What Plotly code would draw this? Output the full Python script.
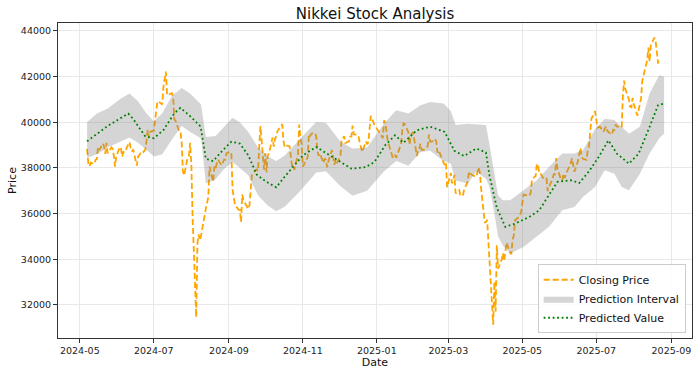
import plotly.graph_objects as go

# ---------------- data ----------------
close_dates = [
    "2024-05-07","2024-05-08","2024-05-09","2024-05-10","2024-05-13","2024-05-14","2024-05-15","2024-05-16","2024-05-17",
    "2024-05-20","2024-05-21","2024-05-22","2024-05-23","2024-05-24","2024-05-27","2024-05-28","2024-05-29","2024-05-30","2024-05-31",
    "2024-06-03","2024-06-04","2024-06-05","2024-06-06","2024-06-07","2024-06-10","2024-06-11","2024-06-12","2024-06-13","2024-06-14",
    "2024-06-17","2024-06-18","2024-06-19","2024-06-20","2024-06-21","2024-06-24","2024-06-25","2024-06-26","2024-06-27","2024-06-28",
    "2024-07-01","2024-07-02","2024-07-03","2024-07-04","2024-07-05","2024-07-08","2024-07-09","2024-07-10","2024-07-11","2024-07-12",
    "2024-07-16","2024-07-17","2024-07-18","2024-07-19","2024-07-22","2024-07-23","2024-07-24","2024-07-25","2024-07-26",
    "2024-07-29","2024-07-30","2024-07-31","2024-08-01","2024-08-02","2024-08-05","2024-08-06","2024-08-07","2024-08-08","2024-08-09",
    "2024-08-13","2024-08-14","2024-08-15","2024-08-16","2024-08-19","2024-08-20","2024-08-21","2024-08-22","2024-08-23",
    "2024-08-26","2024-08-27","2024-08-28","2024-08-29","2024-08-30","2024-09-02","2024-09-03","2024-09-04","2024-09-05","2024-09-06",
    "2024-09-09","2024-09-10","2024-09-11","2024-09-12","2024-09-13","2024-09-17","2024-09-18","2024-09-19","2024-09-20",
    "2024-09-24","2024-09-25","2024-09-26","2024-09-27","2024-09-30","2024-10-01","2024-10-02","2024-10-03","2024-10-04",
    "2024-10-07","2024-10-08","2024-10-09","2024-10-10","2024-10-11","2024-10-15","2024-10-16","2024-10-17","2024-10-18",
    "2024-10-21","2024-10-22","2024-10-23","2024-10-24","2024-10-25","2024-10-28","2024-10-29","2024-10-30","2024-10-31","2024-11-01",
    "2024-11-05","2024-11-06","2024-11-07","2024-11-08","2024-11-11","2024-11-12","2024-11-13","2024-11-14","2024-11-15",
    "2024-11-18","2024-11-19","2024-11-20","2024-11-21","2024-11-22","2024-11-25","2024-11-26","2024-11-27","2024-11-28","2024-11-29",
    "2024-12-02","2024-12-03","2024-12-04","2024-12-05","2024-12-06","2024-12-09","2024-12-10","2024-12-11","2024-12-12","2024-12-13",
    "2024-12-16","2024-12-17","2024-12-18","2024-12-19","2024-12-20","2024-12-23","2024-12-24","2024-12-25","2024-12-26","2024-12-27",
    "2024-12-30","2025-01-06","2025-01-07","2025-01-08","2025-01-09","2025-01-10","2025-01-14","2025-01-15","2025-01-16","2025-01-17",
    "2025-01-20","2025-01-21","2025-01-22","2025-01-23","2025-01-24","2025-01-27","2025-01-28","2025-01-29","2025-01-30","2025-01-31",
    "2025-02-03","2025-02-04","2025-02-05","2025-02-06","2025-02-07","2025-02-10","2025-02-12","2025-02-13","2025-02-14",
    "2025-02-17","2025-02-18","2025-02-19","2025-02-20","2025-02-21","2025-02-25","2025-02-26","2025-02-27","2025-02-28",
    "2025-03-03","2025-03-04","2025-03-05","2025-03-06","2025-03-07","2025-03-10","2025-03-11","2025-03-12","2025-03-13","2025-03-14",
    "2025-03-17","2025-03-18","2025-03-19","2025-03-21","2025-03-24","2025-03-25","2025-03-26","2025-03-27","2025-03-28",
    "2025-03-31","2025-04-01","2025-04-02","2025-04-03","2025-04-04","2025-04-07","2025-04-08","2025-04-09","2025-04-10","2025-04-11",
    "2025-04-14","2025-04-15","2025-04-16","2025-04-17","2025-04-18","2025-04-21","2025-04-22","2025-04-23","2025-04-24","2025-04-25",
    "2025-04-28","2025-04-30","2025-05-01","2025-05-02","2025-05-07","2025-05-08","2025-05-09","2025-05-12","2025-05-13","2025-05-14",
    "2025-05-15","2025-05-16","2025-05-19","2025-05-20","2025-05-21","2025-05-22","2025-05-23","2025-05-26","2025-05-27","2025-05-28",
    "2025-05-29","2025-05-30","2025-06-02","2025-06-03","2025-06-04","2025-06-05","2025-06-06","2025-06-09","2025-06-10","2025-06-11",
    "2025-06-12","2025-06-13","2025-06-16","2025-06-17","2025-06-18","2025-06-19","2025-06-20","2025-06-23","2025-06-24","2025-06-25",
    "2025-06-26","2025-06-27","2025-06-30","2025-07-01","2025-07-02","2025-07-03","2025-07-04","2025-07-07","2025-07-08","2025-07-09",
    "2025-07-10","2025-07-11","2025-07-14","2025-07-15","2025-07-16","2025-07-17","2025-07-18","2025-07-22","2025-07-23","2025-07-24",
    "2025-07-25","2025-07-28","2025-07-29","2025-07-30","2025-07-31","2025-08-01","2025-08-04","2025-08-05","2025-08-06","2025-08-07",
    "2025-08-08","2025-08-12","2025-08-13","2025-08-14","2025-08-15","2025-08-18","2025-08-19","2025-08-20","2025-08-21","2025-08-22",
]
close_values = [
    38835,38202,38073,38229,38179,38356,38385,38920,38787,
    39069,38946,38617,39103,38646,38900,38855,38556,38054,38487,
    38923,38837,38490,38703,38683,39038,39134,38876,38720,38814,
    38102,38482,38570,38633,38596,38804,39173,39667,39341,39583,
    39631,40074,40580,40913,40912,40780,41580,41831,42224,41190,
    41275,41098,40126,40063,39599,39594,39154,37869,37667,
    38468,38525,39101,38126,35909,31458,34675,35089,34831,35025,
    36232,36442,36726,38063,37389,38063,37951,38211,38364,
    38110,38288,38371,38362,38648,38700,38686,37047,36657,36391,
    36159,36159,35620,36833,36581,36203,36380,37155,37724,
    37941,37870,38926,39830,37920,38652,37809,38552,38636,
    39333,38938,39278,39381,39606,39911,39181,38911,38982,
    38955,38412,38105,38143,37914,38606,39903,39277,39081,38054,
    38475,39480,39381,39501,39534,39376,38722,38536,38642,
    38220,38415,38352,38027,38284,38780,38443,38135,38349,38208,
    38513,39249,39277,39396,39091,39161,39368,39373,39850,39470,
    39457,39365,39082,38814,38702,39161,39037,39130,39568,40281,
    39895,39307,40083,39981,39605,39190,38474,38445,38573,38451,
    38903,39027,39646,39958,39931,39566,39016,39415,39514,39572,
    38520,38798,38831,39066,38787,38801,38964,39461,39149,
    39174,39270,39164,38678,38776,38238,38142,38256,37155,
    37785,37331,37418,37704,36887,37028,36793,36819,36790,37053,
    37396,37845,37751,37677,37608,37780,38027,37799,37120,
    35618,35625,35726,34736,33781,31137,33013,31714,34609,33586,
    33983,34268,33921,34377,34730,34280,34221,34869,35040,35706,
    35840,36045,36452,36831,36780,36929,37504,37645,38184,38128,
    37756,37754,37499,37530,37530,36986,37160,37532,37724,37723,
    38433,37965,37471,37447,37748,37555,37742,38089,38212,38421,
    38173,37834,38312,38537,38885,38489,38403,38354,38791,38943,
    39584,40151,40487,39987,39763,39786,39811,39588,39689,39822,
    39646,39570,39460,39679,39663,39901,39819,39775,41171,41826,
    41456,40998,40675,40655,41069,40800,40291,40550,40794,41059,
    41820,42718,43275,42650,43378,43714,43547,42889,42610,42633,
]

pred_dates = [
    "2024-05-07","2024-05-15","2024-05-24","2024-06-03","2024-06-10","2024-06-14","2024-06-24","2024-07-01","2024-07-09",
    "2024-07-18","2024-07-23","2024-07-30","2024-08-08","2024-08-09","2024-08-13","2024-08-19","2024-08-27","2024-09-03",
    "2024-09-10","2024-09-17","2024-09-24","2024-10-02","2024-10-10","2024-10-18","2024-10-25","2024-11-01","2024-11-12",
    "2024-11-21","2024-12-02","2024-12-11","2024-12-23","2024-12-30","2025-01-08","2025-01-16","2025-01-23","2025-02-03",
    "2025-02-14","2025-02-26","2025-03-06","2025-03-14","2025-03-24","2025-04-01","2025-04-04","2025-04-10","2025-04-17",
    "2025-04-25","2025-05-07","2025-05-15","2025-05-22","2025-05-30","2025-06-10","2025-06-17","2025-06-25","2025-07-03",
    "2025-07-11","2025-07-18","2025-07-28","2025-08-05","2025-08-14","2025-08-21","2025-08-26",
]
pred_values = [
    39170,39500,39840,40160,40380,40150,39380,39300,39660,
    40400,40630,40320,39850,39700,38400,38300,38780,39150,
    39070,38550,37700,37390,37150,37680,38120,38550,38920,
    38630,38260,37970,38040,38260,39000,39430,39100,39650,
    39810,39580,38750,38520,38850,38680,37650,36250,35420,
    35560,35860,36150,36730,37390,37460,37340,37850,38480,
    39210,38630,38190,38630,39800,40750,40820,
]

band_dates = [
    "2024-05-07","2024-05-15","2024-05-24","2024-06-04","2024-06-11","2024-06-18","2024-06-25","2024-07-01","2024-07-08",
    "2024-07-16","2024-07-24","2024-07-31","2024-08-09","2024-08-13","2024-08-21","2024-08-28","2024-09-04","2024-09-10",
    "2024-09-17","2024-09-25","2024-10-03","2024-10-10","2024-10-17","2024-10-30","2024-11-12","2024-11-20","2024-12-02",
    "2024-12-12","2024-12-24","2025-01-07","2025-01-17","2025-01-27","2025-02-06","2025-02-14","2025-02-25","2025-03-03",
    "2025-03-07","2025-03-17","2025-03-24","2025-04-01","2025-04-04","2025-04-08","2025-04-11","2025-04-15","2025-04-21",
    "2025-05-02","2025-05-13","2025-05-23","2025-06-03","2025-06-13","2025-06-20","2025-06-30","2025-07-08","2025-07-16",
    "2025-07-22","2025-07-28","2025-08-06","2025-08-14","2025-08-22","2025-08-26",
]
band_upper = [
    40000,40380,40600,41040,41260,40920,40380,40050,40400,
    41150,41500,41260,40780,39360,39400,39800,40200,40000,
    39580,38900,38500,38300,38550,39290,40010,39980,39150,
    38850,38900,39950,40530,40380,40750,40890,40820,40500,
    39880,39940,39900,39880,39000,37800,36800,36580,36580,
    37020,37460,38040,38630,38630,38770,39700,40150,40100,
    39800,39500,39800,41260,42060,41990,
]
band_lower = [
    38450,38600,38900,39150,39330,39100,38800,38500,38600,
    39250,39840,39580,39300,37320,37500,37950,38260,38000,
    37680,36800,36360,36100,36300,37000,37800,37860,37200,
    36780,37000,37860,38300,38100,38700,38750,38300,38190,
    37450,37320,37830,37530,37170,36000,35000,34600,34250,
    34540,34980,35420,36150,36290,36730,37170,37900,37750,
    37170,37020,37750,38630,39300,39500,
]

x_range = ["2024-04-13", "2025-09-18"]
y_range = [30550, 44350]

FONT = "DejaVu Sans"

fig = go.Figure()

fig.add_trace(go.Scatter(
    x=close_dates, y=close_values, mode="lines", name="Closing Price",
    line=dict(color="orange", width=1.8, dash="6px,3px"),
))
fig.add_trace(go.Scatter(
    x=band_dates, y=band_lower, mode="lines", line=dict(width=0, color="rgba(0,0,0,0)"),
    showlegend=False, hoverinfo="skip",
))
fig.add_trace(go.Scatter(
    x=band_dates, y=band_upper, mode="lines", name="Prediction Interval",
    line=dict(width=0, color="rgba(0,0,0,0)"), fill="tonexty",
    fillcolor="rgba(128,128,128,0.33)",
))
fig.add_trace(go.Scatter(
    x=pred_dates, y=pred_values, mode="lines", name="Predicted Value",
    line=dict(color="green", width=1.8, dash="1.8px,2.7px"),
))

axis_common = dict(
    showline=True, linecolor="#333333", linewidth=1, mirror=True,
    ticks="outside", ticklen=4, tickwidth=1, tickcolor="#333333",
    showgrid=True, gridcolor="#e8e8e8", gridwidth=1, zeroline=False,
    tickfont=dict(family=FONT, size=9.5, color="#222222"),
    automargin=False,
)

fig.update_layout(
    width=700, height=376,
    margin=dict(l=58, r=8, t=23, b=38),
    paper_bgcolor="white", plot_bgcolor="white",
    font=dict(family=FONT, color="#222222"),
    title=dict(text="Nikkei Stock Analysis", x=0.5, xref="paper", y=0.964, yref="container",
               xanchor="center", yanchor="middle", font=dict(family=FONT, size=15, color="#111111")),
    xaxis=dict(type="date", range=x_range, tick0="2024-05-01", dtick="M2", tickformat="%Y-%m",
               ticklabeloverflow="allow",
               title=dict(text="Date", font=dict(family=FONT, size=11, color="#111111"), standoff=2),
               **axis_common),
    yaxis=dict(range=y_range, tick0=32000, dtick=2000, tickformat="d",
               title=dict(text="Price", font=dict(family=FONT, size=11, color="#111111"), standoff=2),
               **axis_common),
    legend=dict(x=0.99, y=0.015, xanchor="right", yanchor="bottom", traceorder="normal",
                bgcolor="rgba(255,255,255,0.85)", bordercolor="#cccccc", borderwidth=1,
                font=dict(family=FONT, size=11, color="#111111"), itemwidth=30,
                tracegroupgap=0),
    showlegend=True,
)

fig.write_html("out.html", config={"displayModeBar": False},
               post_script="document.body.style.margin='0px';")
